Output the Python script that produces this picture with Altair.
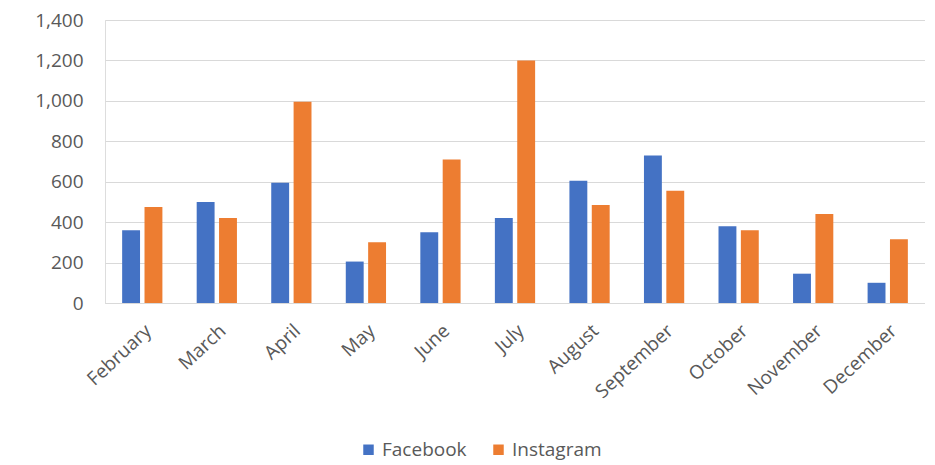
import altair as alt
import pandas as pd

months = ["February", "March", "April", "May", "June", "July", "August",
          "September", "October", "November", "December"]
facebook = [360, 500, 595, 205, 350, 420, 605, 730, 380, 145, 100]
instagram = [475, 420, 995, 300, 710, 1200, 485, 555, 360, 440, 315]
series = ["Facebook", "Instagram"]
colors = ["#4472C4", "#ED7D31"]

rows = []
for m, f, i in zip(months, facebook, instagram):
    rows.append({"month": m, "series": "Facebook", "value": f})
    rows.append({"month": m, "series": "Instagram", "value": i})
df = pd.DataFrame(rows)

FONT = "Open Sans"

chart = alt.Chart(df).mark_bar().encode(
    x=alt.X("month:N", sort=months,
            scale=alt.Scale(paddingInner=0.46, paddingOuter=0.23),
            axis=alt.Axis(title=None, labelAngle=-43, labelFontSize=19,
                          labelColor="#595959", labelFont=FONT, ticks=False,
                          domain=True, domainColor="#d9d9d9", labelPadding=18)),
    xOffset=alt.XOffset("series:N", sort=series,
                        scale=alt.Scale(paddingInner=0.2)),
    y=alt.Y("value:Q", scale=alt.Scale(domain=[0, 1400]),
            axis=alt.Axis(title=None, values=list(range(0, 1401, 200)),
                          format=",d", labelFontSize=19, labelColor="#595959",
                          labelFont=FONT, ticks=False, domain=False,
                          gridColor="#d9d9d9", labelPadding=22)),
    color=alt.Color("series:N", sort=series,
                    scale=alt.Scale(domain=series, range=colors),
                    legend=alt.Legend(title=None, orient="none", direction="horizontal",
                                      legendX=254, legendY=420, labelFontSize=19,
                                      labelColor="#595959", labelFont=FONT,
                                      symbolType="square", symbolSize=110,
                                      symbolStrokeWidth=0, columnPadding=22,
                                      labelOffset=4)),
).properties(
    width=820, height=283,
    padding={"left": 97, "top": 12, "right": 0, "bottom": 162},
    autosize=alt.AutoSizeParams(type="none"),
).configure_view(stroke=None).configure(background="white")

chart.save("out.html", embed_options={"renderer": "svg", "actions": False})
